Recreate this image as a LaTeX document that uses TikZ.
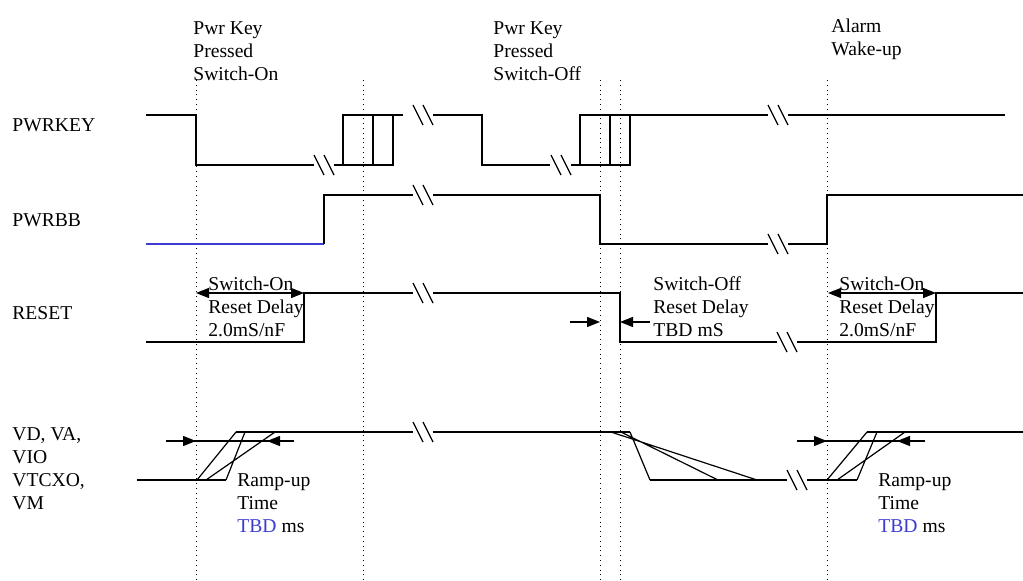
\documentclass[tikz,border=0pt]{standalone}
\usepackage{fontspec}
\setmainfont{Liberation Serif}
\usetikzlibrary{arrows.meta,positioning}
\definecolor{SigBlue}{HTML}{3C3CD2}

% break mark on a signal line, centred at (#1,#2)
\newcommand{\brk}[2]{\draw[sig] (#1-10,#2-10) -- (#1,#2+10) (#1,#2-10) -- (#1+10,#2+10);}

\begin{document}
\begin{tikzpicture}[x=0.5pt,y=-0.5pt,>={Triangle[length=6.5pt,width=5pt]}]
    \tikzset{sig/.style={line width=0.6pt,black},
      guide/.style={line width=0.4pt,dotted},
      lbl/.style={inner sep=0pt,align=left,anchor=north west,
        font={\fontsize{9.8}{11.5}\selectfont}},
      signame/.style={lbl,anchor=west},
      tip/.style={->,line width=0.6pt}}
    \useasboundingbox (0,0) rectangle (1023,580);
    % event lines
    \foreach \x in {196,363,600,620,827}
      \draw[guide] (\x,80) -- (\x,580);
    % event labels
    \node[lbl] (evOn) at (193,21) {Pwr Key\\Pressed\\Switch-On};
    \node[lbl] (evOff) at (493,21) {Pwr Key\\Pressed\\Switch-Off};
    \node[lbl] (evAlarm) at (831,18) {Alarm\\Wake-up};
    % signal names
    \node[signame] (nKey) at (12,125) {PWRKEY};
    \node[signame] (nBB) at (12,220) {PWRBB};
    \node[signame] (nRst) at (12,313) {RESET};
    \node[lbl] (nSup) at (12,427) {VD, VA,\\VIO\\VTCXO,\\VM};

    % PWRKEY
    \draw[sig] (146,115) -- (196,115) -- (196,165) -- (314,165);
    \brk{324}{165}
    \draw[sig] (334,165) -- (343,165);
    \draw[sig] (343,115) rectangle (393,165) (373,115) -- (373,165);
    \draw[sig] (393,115) -- (403,115);
    \brk{423}{115}
    \draw[sig] (433,115) -- (482,115) -- (482,165) -- (550,165);
    \brk{561}{165}
    \draw[sig] (571,165) -- (580,165);
    \draw[sig] (580,115) rectangle (630,165) (610,115) -- (610,165);
    \draw[sig] (630,115) -- (768,115);
    \brk{778}{115}
    \draw[sig] (788,115) -- (1005,115);

    % PWRBB
    \draw[line width=0.6pt,SigBlue] (146,244) -- (324,244);
    \draw[sig] (324,244) -- (324,195) -- (413,195);
    \brk{423}{195}
    \draw[sig] (433,195) -- (600,195) -- (600,244) -- (768,244);
    \brk{778}{244}
    \draw[sig] (788,244) -- (827,244) -- (827,195) -- (1023,195);

    % RESET
    \draw[sig] (146,342) -- (304,342) -- (304,293) -- (413,293);
    \brk{423}{293}
    \draw[sig] (433,293) -- (620,293) -- (620,342) -- (777,342);
    \brk{787}{342}
    \draw[sig] (797,342) -- (936,342) -- (936,293) -- (1023,293);
    \draw[tip,<->] (196,293) -- (304,293);
    \draw[tip,<->] (828,293) -- (936,293);
    \draw[tip] (570,322) -- (600,322);
    \draw[tip] (650,322) -- (620,322);
    \node[lbl] (dlyOn) at (208,276) {Switch-On\\Reset Delay\\2.0mS/nF};
    \node[lbl] (dlyOff) at (653,276) {Switch-Off\\Reset Delay\\TBD mS};
    \node[lbl] (dlyOn2) at (839,276) {Switch-On\\Reset Delay\\2.0mS/nF};

    % supplies
    \draw[sig] (137,480) -- (226,480);
    \draw[sig] (197,480) -- (236,432) (206,480) -- (275,432) (226,480) -- (245,432);
    \draw[sig] (236,432) -- (413,432);
    \brk{423}{432}
    \draw[sig] (433,432) -- (630,432);
    \draw[sig] (611,432) -- (757,480) (621,432) -- (718,480) (630,432) -- (650,480);
    \draw[sig] (650,480) -- (787,480);
    \brk{797}{480}
    \draw[sig] (807,480) -- (857,480);
    \draw[sig] (827,480) -- (867,432) (837,480) -- (905,432) (857,480) -- (877,432);
    \draw[sig] (867,432) -- (1023,432);
    \draw[sig] (166,441) -- (294,441) (797,441) -- (925,441);
    \draw[tip] (166,441) -- (196,441);
    \draw[tip] (294,441) -- (267,441);
    \draw[tip] (797,441) -- (827,441);
    \draw[tip] (925,441) -- (897,441);
    \node[lbl] (rampL) at (237,473) {Ramp-up\\Time\\{\color{SigBlue}TBD} ms};
    \node[lbl] (rampR) at (878,473) {Ramp-up\\Time\\{\color{SigBlue}TBD} ms};
  \end{tikzpicture}
\end{document}
